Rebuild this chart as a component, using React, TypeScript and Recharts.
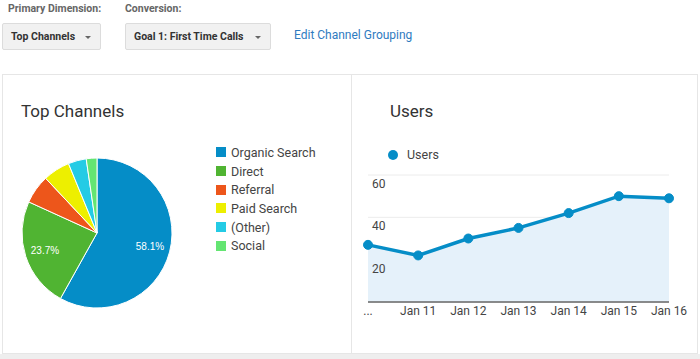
import React from "react";
import {
  PieChart,
  Pie,
  Cell,
  Legend,
  AreaChart,
  Area,
  XAxis,
  YAxis,
  CartesianGrid,
} from "recharts";

const channelNames = ["Organic Search", "Direct", "Referral", "Paid Search", "(Other)", "Social"];
const channelShares = [58.1, 23.7, 6.2, 5.8, 3.9, 2.3];
const channelColors = ["#058dc7", "#50b432", "#ed561b", "#edef00", "#24cbe5", "#64e572"];

const days = ["Jan 10", "Jan 11", "Jan 12", "Jan 13", "Jan 14", "Jan 15", "Jan 16"];
const users = [27, 22, 30, 35, 42, 50, 49];
const userTicks = [0, 10, 20, 30, 40, 50, 60];
const userLabels = [20, 40, 60];

const pieData = channelNames.map((name, i) => ({ name, value: channelShares[i] }));
const lineData = days.map((day, i) => ({ day, users: users[i] }));

const FONT = "Roboto, Arial, sans-serif";
const RAD = Math.PI / 180;

function SliceLabel(props: any) {
  const { cx, cy, midAngle, outerRadius, value } = props;
  if (value < 10) return null;
  const r = outerRadius * 0.73;
  const x = cx + r * Math.cos(-midAngle * RAD);
  const y = cy + r * Math.sin(-midAngle * RAD);
  return (
    <text x={x} y={y} fill="#fff" fontSize={10} fontFamily="Arial, sans-serif" textAnchor="middle" dominantBaseline="central">
      {value.toFixed(1)}%
    </text>
  );
}

function ChannelLegend() {
  return (
    <div style={{ fontFamily: FONT, fontSize: 12.5, color: "#444" }}>
      {channelNames.map((name, i) => (
        <div key={name} style={{ display: "flex", alignItems: "center", height: 18.7 }}>
          <span style={{ width: 10, height: 10, background: channelColors[i], marginRight: 5 }} />
          {name}
        </div>
      ))}
    </div>
  );
}

function UserTick(props: any) {
  const { x, y, payload } = props;
  if (!userLabels.includes(payload.value)) return null;
  return (
    <text x={x} y={y + 13} fill="#444" fontSize={12} fontFamily={FONT} textAnchor="start">
      {payload.value}
    </text>
  );
}

function Dropdown({ left, width, label }: { left: number; width: number; label: string }) {
  return (
    <div
      style={{
        position: "absolute",
        left,
        top: 23,
        width,
        height: 27,
        boxSizing: "border-box",
        background: "#f1f1f1",
        border: "1px solid #dcdcdc",
        borderRadius: 2,
        fontWeight: 700,
        fontSize: 10.5,
        color: "#333",
        lineHeight: "25px",
        paddingLeft: 8,
      }}
    >
      {label}
      <span
        style={{
          position: "absolute",
          right: 9,
          top: 12,
          width: 0,
          height: 0,
          borderLeft: "3.5px solid transparent",
          borderRight: "3.5px solid transparent",
          borderTop: "3.5px solid #666",
        }}
      />
    </div>
  );
}

export default function App() {
  return (
    <div style={{ position: "absolute", left: 0, top: 0, width: 700, height: 359, fontFamily: FONT, background: "#fff", overflow: "hidden" }}>
      <div style={{ position: "absolute", left: 8, top: 2, fontSize: 10.5, lineHeight: "13px", fontWeight: 700, color: "#666" }}>Primary Dimension:</div>
      <div style={{ position: "absolute", left: 125, top: 2, fontSize: 10.5, lineHeight: "13px", fontWeight: 700, color: "#666" }}>Conversion:</div>
      <Dropdown left={2} width={99} label="Top Channels" />
      <Dropdown left={125} width={146} label="Goal 1: First Time Calls" />
      <div style={{ position: "absolute", left: 294, top: 28, fontSize: 12, lineHeight: "15px", color: "#2f7bbf" }}>Edit Channel Grouping</div>

      {/* panels */}
      <div style={{ position: "absolute", left: 2, top: 74, width: 350, height: 280, boxSizing: "border-box", border: "1px solid #e6e6e6" }} />
      <div style={{ position: "absolute", left: 352, top: 74, width: 346, height: 280, boxSizing: "border-box", border: "1px solid #e6e6e6", borderLeft: "none" }} />
      <div style={{ position: "absolute", left: 0, top: 354, width: 700, height: 5, background: "#eeeeee" }} />

      <div style={{ position: "absolute", left: 21, top: 101, fontSize: 17, lineHeight: "20px", color: "#333" }}>Top Channels</div>
      <div style={{ position: "absolute", left: 390, top: 101, fontSize: 17, lineHeight: "20px", color: "#333" }}>Users</div>

      <div style={{ position: "absolute", left: 2, top: 133 }}>
        <PieChart width={348} height={200} margin={{ top: 0, right: 0, bottom: 0, left: 0 }}>
          <Pie
            data={pieData}
            dataKey="value"
            nameKey="name"
            cx={95}
            cy={100}
            outerRadius={75}
            startAngle={90}
            endAngle={-270}
            stroke="#fff"
            strokeWidth={1}
            label={SliceLabel}
            labelLine={false}
            isAnimationActive={false}
          >
            {pieData.map((d, i) => (
              <Cell key={d.name} fill={channelColors[i]} />
            ))}
          </Pie>
          <Legend content={<ChannelLegend />} wrapperStyle={{ left: 214, top: 10, width: 134 }} />
        </PieChart>
      </div>

      {/* users legend */}
      <div style={{ position: "absolute", left: 388, top: 147, display: "flex", alignItems: "center", fontSize: 12.5, color: "#444" }}>
        <span style={{ width: 10, height: 10, borderRadius: 5, background: "#058dc7", marginRight: 9 }} />
        Users
      </div>

      <div style={{ position: "absolute", left: 353, top: 165 }}>
        <AreaChart width={345} height={167} data={lineData} margin={{ top: 10, right: 29, bottom: 0, left: 15 }}>
          <CartesianGrid vertical={false} stroke="#ececec" />
          <XAxis
            dataKey="day"
            height={30}
            tickLine={false}
            tickSize={0}
            tickMargin={4}
            axisLine={{ stroke: "#666", strokeWidth: 1.5 }}
            tick={{ fontSize: 12, fill: "#444", fontFamily: FONT }}
            tickFormatter={(v: string, i: number) => (i === 0 ? "..." : v)}
            interval={0}
          />
          <YAxis
            domain={[0, 60]}
            ticks={userTicks}
            mirror
            axisLine={false}
            tickLine={false}
            tickSize={0}
            tickMargin={4}
            tick={<UserTick />}
          />
          <Area
            type="linear"
            dataKey="users"
            stroke="#058dc7"
            strokeWidth={3.5}
            fill="#e5f1fa"
            fillOpacity={1}
            dot={{ r: 4.5, fill: "#058dc7", stroke: "#058dc7", strokeWidth: 1 }}
            isAnimationActive={false}
          />
        </AreaChart>
      </div>
    </div>
  );
}
